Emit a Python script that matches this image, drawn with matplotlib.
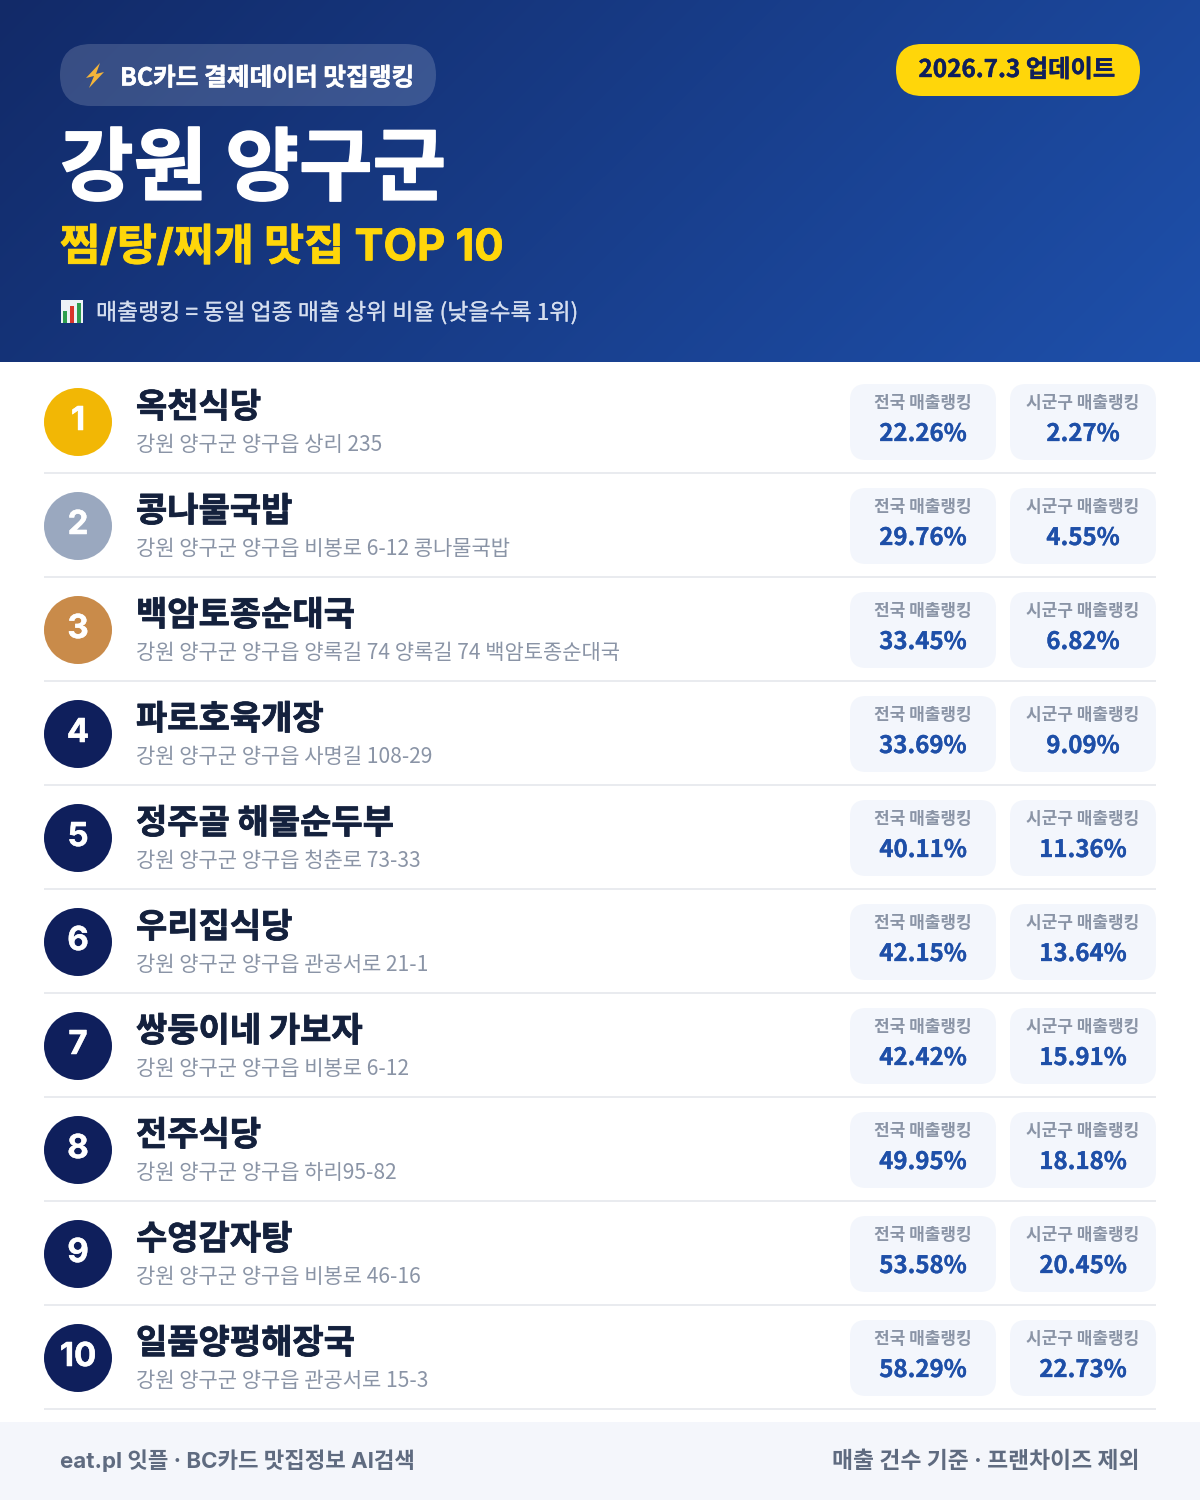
import numpy as np
import matplotlib
matplotlib.use("Agg")
import matplotlib.pyplot as plt
import matplotlib.patheffects as pe
from matplotlib.patches import FancyBboxPatch, Circle, Polygon, Rectangle

NOTO = ['Noto Sans CJK KR', 'DejaVu Sans']
INTER = ['Inter', 'Noto Sans CJK KR', 'DejaVu Sans']
plt.rcParams['font.family'] = NOTO

names = ["옥천식당", "콩나물국밥", "백암토종순대국", "파로호육개장", "정주골 해물순두부",
         "우리집식당", "쌍둥이네 가보자", "전주식당", "수영감자탕", "일품양평해장국"]
addresses = ["강원 양구군 양구읍 상리 235",
             "강원 양구군 양구읍 비봉로 6-12 콩나물국밥",
             "강원 양구군 양구읍 양록길 74 양록길 74 백암토종순대국",
             "강원 양구군 양구읍 사명길 108-29",
             "강원 양구군 양구읍 청춘로 73-33",
             "강원 양구군 양구읍 관공서로 21-1",
             "강원 양구군 양구읍 비봉로 6-12",
             "강원 양구군 양구읍 하리95-82",
             "강원 양구군 양구읍 비봉로 46-16",
             "강원 양구군 양구읍 관공서로 15-3"]
national = [22.26, 29.76, 33.45, 33.69, 40.11, 42.15, 42.42, 49.95, 53.58, 58.29]
local = [2.27, 4.55, 6.82, 9.09, 11.36, 13.64, 15.91, 18.18, 20.45, 22.73]
badge_colors = ["#F2B705", "#9AA8BF", "#C98B4A"]
badge_default = "#0F1F5C"

PX = 72 / 100  # points per pixel at dpi 100
fig = plt.figure(figsize=(12, 15), dpi=100)
ax = fig.add_axes([0, 0, 1, 1])
ax.set_xlim(0, 1200)
ax.set_ylim(1500, 0)
ax.axis('off')

# header gradient
W, H = 600, 181
xx, yy = np.meshgrid(np.linspace(0, 1, W), np.linspace(0, 1, H))
t = (xx * 1200 + yy * 362) / (1200 + 362)
c0 = np.array([0x12, 0x2A, 0x68]) / 255
c1 = np.array([0x1E, 0x50, 0xAB]) / 255
img = c0[None, None, :] + t[..., None] * (c1 - c0)[None, None, :]
ax.imshow(img, extent=(0, 1200, 362, 0), aspect='auto', zorder=0, interpolation='bilinear')
ax.set_xlim(0, 1200)
ax.set_ylim(1500, 0)


def rbox(x0, y0, x1, y1, r, **kw):
    p = FancyBboxPatch((x0 + r, y0 + r), x1 - x0 - 2 * r, y1 - y0 - 2 * r,
                       boxstyle=f"round,pad={r},rounding_size={r}", linewidth=0, **kw)
    ax.add_patch(p)
    return p


def T(x, y, s, px, color, weight='regular', ha='left', stroke=0, family=NOTO):
    t = ax.text(x, y, s, fontsize=px * PX, color=color, fontweight=weight, ha=ha,
                va='center_baseline', zorder=5, family=family)
    if stroke:
        t.set_path_effects([pe.withStroke(linewidth=stroke * PX, foreground=color)])


# top pill
rbox(60, 44, 436, 106, 31, facecolor='white', alpha=0.16, zorder=1)
ax.add_patch(Polygon([(100, 63), (86, 78), (94, 76), (89, 88), (104, 72), (96, 74)],
                     closed=True, facecolor='#F5B53A', edgecolor='none', zorder=5))
T(120, 76, "BC카드 결제데이터 맛집랭킹", 24.7, 'white', 'bold', stroke=0.5)

# date pill
rbox(896, 44, 1140, 96, 26, facecolor='#FFD60A', zorder=1)
T(1017, 67.5, "2026.7.3 업데이트", 24.3, '#0F1F5C', 'bold', ha='center', stroke=0.4)

T(60, 162, "강원 양구군", 80, 'white', 'bold', stroke=1.5)
T(60, 244, "찜/탕/찌개 맛집 TOP 10", 43.5, '#FFD60A', 'bold', stroke=0.8, family=INTER)

# bar chart icon
ax.add_patch(Rectangle((61, 300), 22, 23, facecolor='#EDF1F7', edgecolor='none', zorder=4))
for bx, by, bc in [(63, 311, '#2E9E4F'), (70, 306, '#D9352C'), (77, 303, '#2E9E4F')]:
    ax.add_patch(Rectangle((bx, by), 4, 323 - by, facecolor=bc, edgecolor='none', zorder=5))
T(96, 310.5, "매출랭킹 = 동일 업종 매출 상위 비율 (낮을수록 1위)", 22.9, '#D5DEEF', stroke=0.2)

# rows
for i, (name, addr, nat, loc) in enumerate(zip(names, addresses, national, local)):
    dy = 104 * i
    col = badge_colors[i] if i < 3 else badge_default
    ax.add_patch(Circle((78, 422 + dy), 34, facecolor=col, edgecolor='none', zorder=2))
    T(78, 418 + dy, str(i + 1), 33, 'white', 'bold', ha='center', family=INTER, stroke=0.5)
    T(136, 403.5 + dy, name, 34, '#14213D', 'bold', stroke=0.8)
    T(136, 442.5 + dy, addr, 21, '#8A94A6')
    for x0, x1, lab, val in [(850, 996, "전국 매출랭킹", nat), (1010, 1156, "시군구 매출랭킹", loc)]:
        rbox(x0, 384 + dy, x1, 460 + dy, 16, facecolor='#F3F6FC', zorder=1)
        xc = (x0 + x1) / 2
        T(xc, 400.5 + dy, lab, 17, '#8A94A6', 'bold', ha='center')
        T(xc, 431.5 + dy, f"{val:.2f}%", 24, '#1E4FA8', 'bold', ha='center', stroke=0.3)
    ax.plot([44, 1156], [473 + dy, 473 + dy], color='#E9EBEF', lw=2 * PX, solid_capstyle='butt', zorder=1)

# footer
ax.add_patch(Rectangle((0, 1422), 1200, 78, facecolor='#F4F6FB', edgecolor='none', zorder=1))
T(60, 1458, "eat.pl 잇플 · BC카드 맛집정보 AI검색", 22.3, '#5F6B80', 'bold', family=INTER)
T(1140, 1459, "매출 건수 기준 · 프랜차이즈 제외", 22.85, '#5F6B80', 'bold', ha='right', family=INTER)

fig.savefig("out.png", dpi=100, facecolor='white')
